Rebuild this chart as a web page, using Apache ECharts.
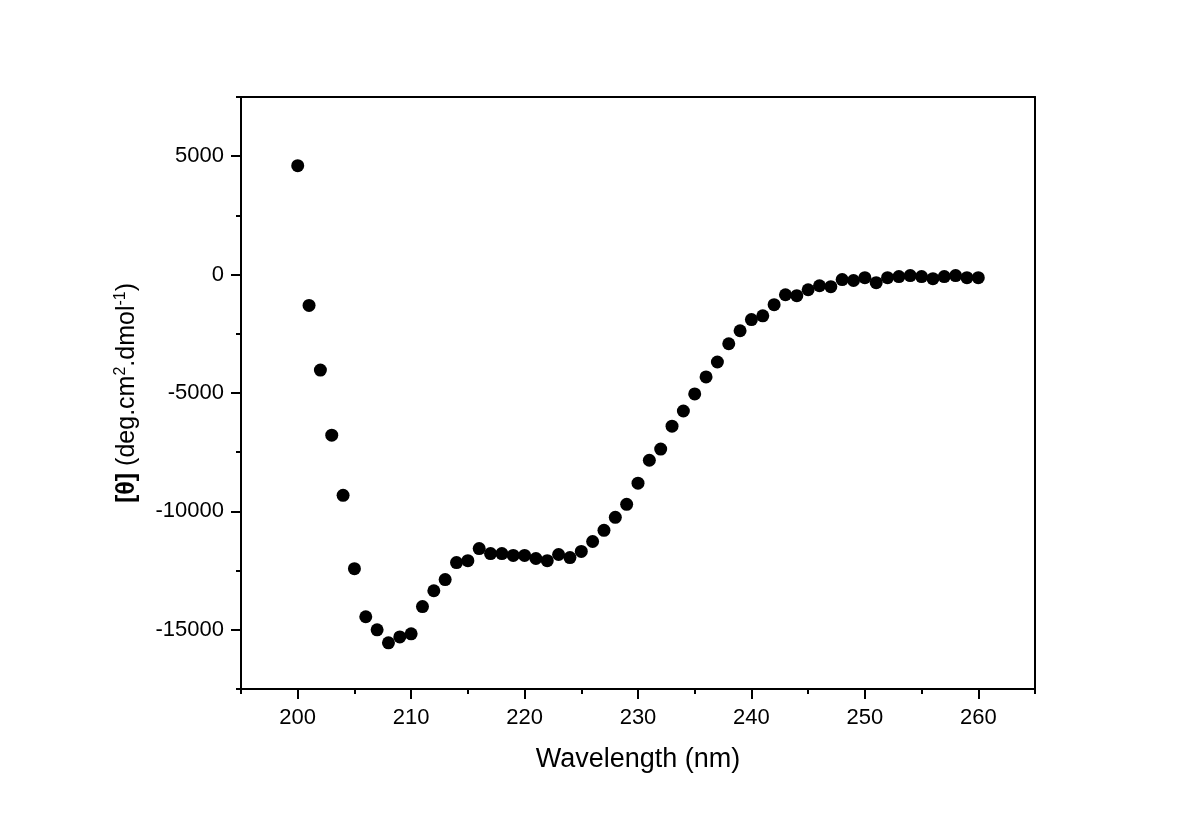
<!DOCTYPE html>
<html>
<head>
<meta charset="utf-8">
<script src="https://cdn.jsdelivr.net/npm/echarts@6/dist/echarts.min.js"></script>
<style>
    html, body { margin: 0; padding: 0; background: #fff; }
    #main { width: 1200px; height: 823px; }
</style>
</head>
<body>
<div id="main"></div>
<script>
// wavelength (nm)
var wavelength = [200, 201, 202, 203, 204, 205, 206, 207, 208, 209, 210,
    211, 212, 213, 214, 215, 216, 217, 218, 219, 220,
    221, 222, 223, 224, 225, 226, 227, 228, 229, 230,
    231, 232, 233, 234, 235, 236, 237, 238, 239, 240,
    241, 242, 243, 244, 245, 246, 247, 248, 249, 250,
    251, 252, 253, 254, 255, 256, 257, 258, 259, 260];
// [θ] mean residue ellipticity
var theta = [4600, -1300, -4030, -6780, -9320, -12420, -14450, -15000, -15550, -15300, -15170,
    -14020, -13350, -12880, -12160, -12080, -11570, -11780, -11780, -11860, -11860,
    -11990, -12080, -11820, -11950, -11690, -11270, -10800, -10250, -9700, -8810,
    -7840, -7370, -6400, -5760, -5040, -4320, -3690, -2920, -2370, -1900,
    -1740, -1270, -850, -890, -640, -470, -510, -210, -250, -130,
    -340, -130, -85, -40, -85, -170, -85, -40, -130, -130];
var xTickLabels = [200, 210, 220, 230, 240, 250, 260];
var yTickLabels = [-15000, -10000, -5000, 0, 5000];

var dom = document.getElementById("main");
var myChart = echarts.init(dom);
var font = 'Liberation Sans';

var points = [];
for (var i = 0; i < wavelength.length; i++) {
    points.push([wavelength[i], theta[i]]);
}

var lineStyle = { color: '#000', width: 2 };
var gridBox = { left: 241, right: 165, top: 97, bottom: 134 };

var option = {
    backgroundColor: '#fff',
    animation: false,
    textStyle: { fontFamily: font },
    grid: [
        { left: gridBox.left, right: gridBox.right, top: gridBox.top, bottom: gridBox.bottom },
        { left: gridBox.left, right: gridBox.right, top: gridBox.top, bottom: gridBox.bottom }
    ],
    xAxis: [
        {
            // bottom axis: line, minor ticks, labels, name
            type: 'value', gridIndex: 0, position: 'bottom',
            min: 195, max: 265, interval: 5,
            axisLine: { show: true, onZero: false, lineStyle: lineStyle },
            axisTick: { show: true, inside: false, length: 5, lineStyle: lineStyle },
            axisLabel: {
                show: true, customValues: xTickLabels, margin: 18,
                color: '#000', fontSize: 22, fontFamily: font,
                formatter: function (v) { return String(v); }
            },
            splitLine: { show: false },
            name: 'Wavelength (nm)', nameLocation: 'middle', nameGap: 57,
            nameTextStyle: { color: '#000', fontSize: 27, fontFamily: font }
        },
        {
            // top frame
            type: 'value', gridIndex: 0, position: 'top',
            min: 195, max: 265,
            axisLine: { show: true, onZero: false, lineStyle: lineStyle },
            axisTick: { show: false }, axisLabel: { show: false }, splitLine: { show: false }
        },
        {
            // major ticks
            type: 'value', gridIndex: 1, position: 'bottom',
            min: 195, max: 265,
            axisLine: { show: false, onZero: false },
            axisTick: { show: true, inside: false, length: 10, customValues: xTickLabels, lineStyle: lineStyle },
            axisLabel: { show: false }, splitLine: { show: false }
        }
    ],
    yAxis: [
        {
            type: 'value', gridIndex: 0, position: 'left',
            min: -17500, max: 7500, interval: 2500,
            axisLine: { show: true, onZero: false, lineStyle: lineStyle },
            axisTick: { show: true, inside: false, length: 5, lineStyle: lineStyle },
            axisLabel: {
                show: true, customValues: yTickLabels, margin: 17,
                color: '#000', fontSize: 22, fontFamily: font,
                formatter: function (v) { return String(v); }
            },
            splitLine: { show: false },
            name: '{b|[θ]} (deg.cm{sup|2}.dmol{sup|-1})',
            nameLocation: 'middle', nameGap: 100, nameRotate: 90,
            nameTextStyle: {
                color: '#000', fontSize: 25, fontFamily: font,
                rich: {
                    b: { fontWeight: 'bold', fontSize: 25, color: '#000', fontFamily: font },
                    sup: { fontSize: 16, color: '#000', fontFamily: font, verticalAlign: 'top', padding: [0, 0, 12, 0] }
                }
            }
        },
        {
            type: 'value', gridIndex: 0, position: 'right',
            min: -17500, max: 7500,
            axisLine: { show: true, onZero: false, lineStyle: lineStyle },
            axisTick: { show: false }, axisLabel: { show: false }, splitLine: { show: false }
        },
        {
            type: 'value', gridIndex: 1, position: 'left',
            min: -17500, max: 7500,
            axisLine: { show: false, onZero: false },
            axisTick: { show: true, inside: false, length: 10, customValues: yTickLabels, lineStyle: lineStyle },
            axisLabel: { show: false }, splitLine: { show: false }
        }
    ],
    series: [
        {
            type: 'scatter',
            xAxisIndex: 0,
            yAxisIndex: 0,
            symbol: 'circle',
            symbolSize: 13,
            itemStyle: { color: '#000', opacity: 1 },
            data: points
        }
    ]
};
if (option && typeof option === "object") {
    myChart.setOption(option, true);
}
</script>
</body>
</html>
